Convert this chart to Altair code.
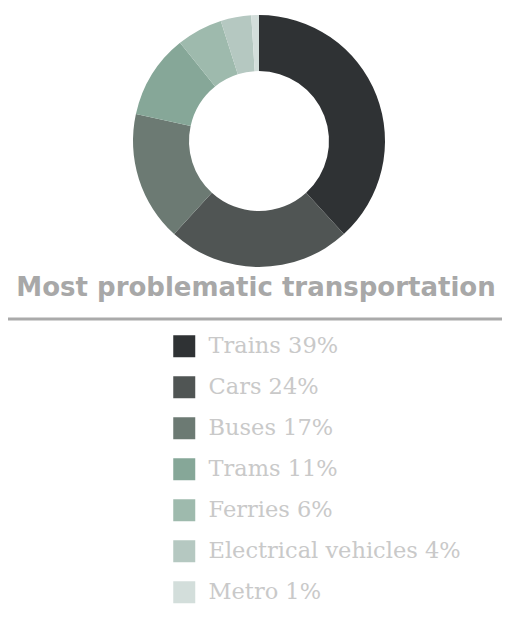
import altair as alt
import pandas as pd

categories = ["Trains", "Cars", "Buses", "Trams", "Ferries", "Electrical vehicles", "Metro"]
values = [39, 24, 17, 11, 6, 4, 1]
colors = ["#2f3234", "#505554", "#6c7a73", "#86a798", "#9ebaad", "#b5c8c1", "#d3dedb"]
title_text = "Most problematic transportation"

labels = [f"{c} {v}%" for c, v in zip(categories, values)]
df = pd.DataFrame({"label": labels, "value": values, "idx": list(range(len(values)))})

W, H = 494, 601

arc = alt.Chart(df).mark_arc(innerRadius=70, outerRadius=126, strokeWidth=0).encode(
    theta=alt.Theta("value:Q", stack=True),
    order=alt.Order("idx:Q"),
    color=alt.Color(
        "label:N",
        sort=labels,
        scale=alt.Scale(domain=labels, range=colors),
        legend=alt.Legend(
            title=None,
            orient="none",
            legendX=165,
            legendY=327,
            symbolType="square",
            symbolSize=484,
            symbolStrokeWidth=0,
            symbolOpacity=1,
            labelFont="DejaVu Serif",
            labelFontSize=22.5,
            labelColor="#c9c9c9",
            labelOffset=13,
            labelLimit=400,
            rowPadding=18,
            padding=0,
        ),
    ),
    x=alt.value(251),
    y=alt.value(133),
)

title_df = pd.DataFrame({"t": [title_text]})
title = alt.Chart(title_df).mark_text(
    font="DejaVu Sans", fontWeight="bold", fontSize=26, color="#a8a8a8",
    align="center", baseline="alphabetic"
).encode(text="t:N", x=alt.value(248), y=alt.value(288))

rule = alt.Chart(title_df).mark_rule(color="#aaaaaa", strokeWidth=3).encode(
    x=alt.value(-2), x2=alt.value(502), y=alt.value(311)
)

chart = alt.layer(arc, title, rule).properties(
    width=W, height=H, padding=0, background="white",
    autosize=alt.AutoSizeParams(type="none")
).configure_view(stroke=None, strokeWidth=0)

chart.save("out.html", embed_options={"renderer": "svg", "actions": False})
